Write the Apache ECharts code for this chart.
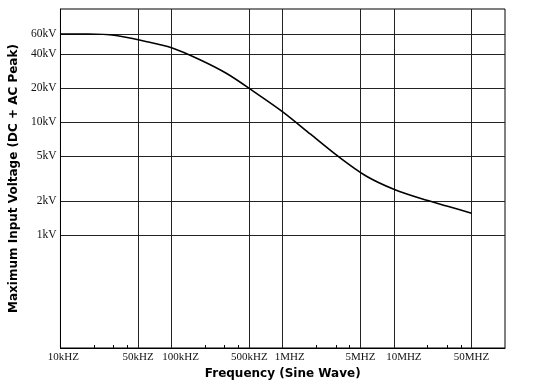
<!DOCTYPE html>
<html>
<head>
<meta charset="utf-8">
<script src="https://cdn.jsdelivr.net/npm/echarts@6/dist/echarts.min.js"></script>
<style>
html,body{margin:0;padding:0;background:#fff;}
#chart{width:550px;height:389px;}
</style>
</head>
<body>
<div id="chart"></div>
<script>
const freqHz = [10000, 17800, 31600, 56200, 100000, 178000, 316000, 562000, 1000000, 1780000, 3160000, 5620000, 10000000, 17800000, 31600000, 50000000];
const maxVoltV = [60000, 60000, 58200, 52100, 45400, 35700, 26700, 18300, 12300, 7800, 4960, 3330, 2540, 2090, 1780, 1560];

const xTickValues = [10000, 50000, 100000, 500000, 1000000, 5000000, 10000000, 50000000];
const xTickLabels = ['10kHZ', '50kHZ', '100kHZ', '500kHZ', '1MHZ', '5MHZ', '10MHZ', '50MHZ'];
const xMinorTicks = [20000, 30000, 40000, 200000, 300000, 400000, 2000000, 3000000, 4000000, 20000000, 30000000, 40000000];
const yTickValues = [1000, 2000, 5000, 10000, 20000, 40000, 60000];
const yTickLabels = ['1kV', '2kV', '5kV', '10kV', '20kV', '40kV', '60kV'];

const shifted = {'100kHZ': 'a', '1MHZ': 'b', '10MHZ': 'c', '10kHZ': 'd'};

function lookup(vals, labels, v) {
  for (let i = 0; i < vals.length; i++) {
    if (Math.abs(vals[i] - v) / vals[i] < 1e-6) return labels[i];
  }
  return '';
}

const chart = echarts.init(document.getElementById('chart'), null, {renderer: 'canvas'});
const serif = 'Liberation Serif';
chart.setOption({
  animation: false,
  backgroundColor: '#fff',
  grid: {left: 58, right: 45, top: 9, bottom: 41, show: true, borderColor: '#000', borderWidth: 1, containLabel: false},
  xAxis: [{
    type: 'log', logBase: 10, min: 10000, max: 100000000,
    name: 'Frequency (Sine Wave)', nameLocation: 'middle', nameGap: 18,
    nameTextStyle: {fontFamily: 'DejaVu Sans', fontWeight: 'bold', fontSize: 12, color: '#000'},
    axisLine: {show: true, lineStyle: {color: '#000', width: 1}},
    axisTick: {show: false, customValues: xTickValues},
    splitLine: {show: true, lineStyle: {color: '#222', width: 1}},
    minorTick: {show: false}, minorSplitLine: {show: false},
    axisLabel: {
      customValues: xTickValues, margin: 4,
      fontFamily: serif, fontSize: 11, color: '#111',
      formatter: function (v) {
        const s = lookup(xTickValues, xTickLabels, v);
        return shifted[s] ? '{' + shifted[s] + '|' + s + '}' : s;
      },
      rich: {
        a: {fontFamily: serif, fontSize: 11, color: '#111', padding: [0, 0, 0, 18]},
        b: {fontFamily: serif, fontSize: 11, color: '#111', padding: [0, 0, 0, 14]},
        c: {fontFamily: serif, fontSize: 11, color: '#111', padding: [0, 0, 0, 20]},
        d: {fontFamily: serif, fontSize: 11, color: '#111', padding: [0, 0, 0, 6]}
      }
    }
  }, {
    type: 'log', logBase: 10, min: 10000, max: 100000000, position: 'bottom',
    axisLine: {show: false},
    axisTick: {show: true, inside: true, length: 3, customValues: xMinorTicks, lineStyle: {color: '#000', width: 1}},
    axisLabel: {show: false},
    splitLine: {show: false}
  }],
  yAxis: {
    type: 'log', logBase: 10, min: 100, max: 100000,
    name: 'Maximum Input Voltage (DC + AC Peak)', nameLocation: 'middle', nameGap: 36, nameRotate: 90,
    nameTextStyle: {fontFamily: 'DejaVu Sans', fontWeight: 'bold', fontSize: 12, color: '#000'},
    axisLine: {show: true, lineStyle: {color: '#000', width: 1}},
    axisTick: {show: false, customValues: yTickValues},
    splitLine: {show: true, lineStyle: {color: '#222', width: 1}},
    minorTick: {show: false}, minorSplitLine: {show: false},
    axisLabel: {
      customValues: yTickValues, margin: 4,
      fontFamily: serif, fontSize: 11.5, color: '#111',
      formatter: function (v) { return lookup(yTickValues, yTickLabels, v); }
    }
  },
  series: [{
    type: 'line',
    data: freqHz.map((f, i) => [f, maxVoltV[i]]),
    smooth: 0.3,
    showSymbol: false,
    lineStyle: {color: '#000', width: 1.6}
  }]
});
</script>
</body>
</html>
